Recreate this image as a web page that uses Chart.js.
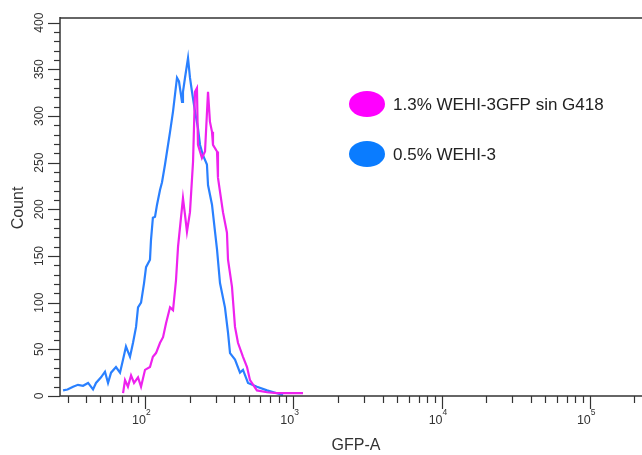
<!DOCTYPE html>
<html>
<head>
<meta charset="utf-8">
<script src="https://cdn.jsdelivr.net/npm/chart.js@4/dist/chart.umd.min.js"></script>
<style>
    html, body { margin: 0; padding: 0; background: #fff; }
</style>
</head>
<body>
<canvas id="histo" width="642" height="455"></canvas>
<script>
// GFP-A histogram, two overlaid samples
const seriesLabels = ['1.3% WEHI-3GFP sin G418', '0.5% WEHI-3'];

const blueX = [28, 30, 32.7, 35.3, 38.2, 41.3, 44.6, 46.7, 50.5, 53.7, 56.3, 59, 63.7, 67.8, 71.1, 74.4, 79.2, 83, 87, 89.7,
    94, 98.5, 101.6, 108, 109.7, 113, 116.8, 120.5, 126.3, 130.2, 136.4, 147.5, 154.5, 159.3, 164.3, 169.5, 177.6, 180.3,
    186.1, 195, 201, 207.4, 217.3, 227.6, 235, 246, 261.6, 266, 283, 296.5, 305.9, 320.4, 346, 362.9, 374.4, 404.5, 437,
    458, 495, 568.8, 665, 776, 852];
const blueY = [6, 7, 10, 12, 11, 14, 7, 14, 20, 26, 14, 25, 31, 25, 39, 53, 42, 57, 74, 95,
    100, 121, 138, 146, 167, 191, 192, 205, 221, 229, 248, 283, 305, 323, 341, 337, 315, 326,
    341, 362, 341, 326, 305, 287, 269, 258, 248, 226, 205, 176, 157, 121, 95, 68, 46, 39, 25,
    28, 14, 10, 6, 3, 1];

const magX = [71.1, 73.3, 76.7, 80.5, 84.3, 89.7, 94, 100, 108, 113, 118.6, 126.3, 132.3, 138.6, 147.5, 154.5, 161.8, 167,
    180.3, 186.1, 191.8, 201, 210.8, 217.3, 224, 227.6, 242, 253.9, 266, 274, 283, 287.4, 305.9, 310.5, 320.4, 335.6,
    357, 362.9, 386, 391.9, 404.5, 423.6, 458, 487.5, 510.5, 568.8, 665, 776, 907, 1059, 1163];
const magY = [3, 17, 10, 22, 14, 20, 10, 28, 31, 42, 46, 57, 63, 78, 95, 92, 124, 160,
    212, 194, 176, 197, 251, 326, 330, 269, 255, 262, 326, 294, 283, 269, 262, 234, 219, 197,
    175, 146, 117, 103, 74, 57, 42, 31, 17, 6, 4, 3, 3, 3, 3];

const seriesColors = ['#ee22ee', '#2a80ff'];
const legendColors = ['#ff00ff', '#0a7cff'];

const yTickLabels = [0, 50, 100, 150, 200, 250, 300, 350, 400];
const decadeExps = [2, 3, 4, 5];

const toPoints = (xs, ys) => xs.map((v, i) => ({ x: v, y: ys[i] }));

const axesPlugin = {
    id: 'facsAxes',
    afterDatasetsDraw(chart) {
        const { ctx, chartArea: a, scales: { x, y } } = chart;
        const line = (x1, y1, x2, y2) => { ctx.beginPath(); ctx.moveTo(x1, y1); ctx.lineTo(x2, y2); ctx.stroke(); };
        ctx.save();

        // frame
        ctx.strokeStyle = '#666';
        ctx.lineWidth = 2;
        line(a.left, a.top, a.right, a.top);
        ctx.strokeStyle = '#333';
        ctx.lineWidth = 1.5;
        line(a.left, a.top - 1, a.left, a.bottom);
        line(a.left, a.bottom, a.right, a.bottom);

        // y ticks, minor every 10
        ctx.lineWidth = 1.2;
        for (let v = 0; v <= 400; v += 10) {
            const py = Math.round(y.getPixelForValue(v)) + 0.5;
            const len = v % 50 === 0 ? 12 : 6;
            line(a.left - len, py, a.left, py);
        }
        ctx.fillStyle = '#333';
        ctx.font = '12px "Liberation Sans", Arial, sans-serif';
        ctx.textAlign = 'center';
        ctx.textBaseline = 'middle';
        yTickLabels.forEach(v => {
            ctx.save();
            ctx.translate(40, y.getPixelForValue(v));
            ctx.rotate(-Math.PI / 2);
            ctx.fillText(String(v), 0, 0);
            ctx.restore();
        });

        // x ticks (log)
        for (let e = 1; e <= 5; e++) {
            for (let m = 1; m <= 9; m++) {
                const v = m * Math.pow(10, e);
                if (v < x.min || v > x.max) continue;
                const px = Math.round(x.getPixelForValue(v)) + 0.5;
                line(px, a.bottom, px, a.bottom + (m === 1 ? 13 : 7));
            }
        }
        decadeExps.forEach(e => {
            const px = x.getPixelForValue(Math.pow(10, e));
            ctx.font = '12.5px "Liberation Sans", Arial, sans-serif';
            ctx.textAlign = 'right';
            ctx.fillText('10', px + 1, 421);
            ctx.font = '8.5px "Liberation Sans", Arial, sans-serif';
            ctx.textAlign = 'left';
            ctx.fillText(String(e), px + 1, 413);
        });

        // axis titles
        ctx.fillStyle = '#333';
        ctx.font = '16px "Liberation Sans", Arial, sans-serif';
        ctx.textAlign = 'center';
        ctx.fillText('GFP-A', 356, 446);
        ctx.save();
        ctx.translate(19, 208);
        ctx.rotate(-Math.PI / 2);
        ctx.fillText('Count', 0, 0);
        ctx.restore();

        // legend
        const rows = [104, 154];
        seriesLabels.forEach((lab, i) => {
            ctx.fillStyle = legendColors[i];
            ctx.beginPath();
            ctx.ellipse(367, rows[i], 18, 13, 0, 0, Math.PI * 2);
            ctx.fill();
            ctx.fillStyle = '#222';
            ctx.font = '17px "Liberation Sans", Arial, sans-serif';
            ctx.textAlign = 'left';
            ctx.fillText(lab, 393, rows[i] + 1);
        });
        ctx.restore();
    }
};

new Chart(document.getElementById('histo').getContext('2d'), {
    type: 'line',
    data: {
        datasets: [
            { label: seriesLabels[0], data: toPoints(magX, magY), borderColor: seriesColors[0], borderWidth: 2.2 },
            { label: seriesLabels[1], data: toPoints(blueX, blueY), borderColor: seriesColors[1], borderWidth: 2.2 }
        ]
    },
    options: {
        responsive: false,
        animation: false,
        layout: { padding: { left: 60, top: 18, right: 0, bottom: 59 } },
        elements: { point: { radius: 0 }, line: { tension: 0 } },
        scales: {
            x: { type: 'logarithmic', min: 26.7, max: 225000, display: false },
            y: { type: 'linear', min: 0, max: 405, display: false }
        },
        plugins: { legend: { display: false }, tooltip: { enabled: false } }
    },
    plugins: [axesPlugin]
});
</script>
</body>
</html>
